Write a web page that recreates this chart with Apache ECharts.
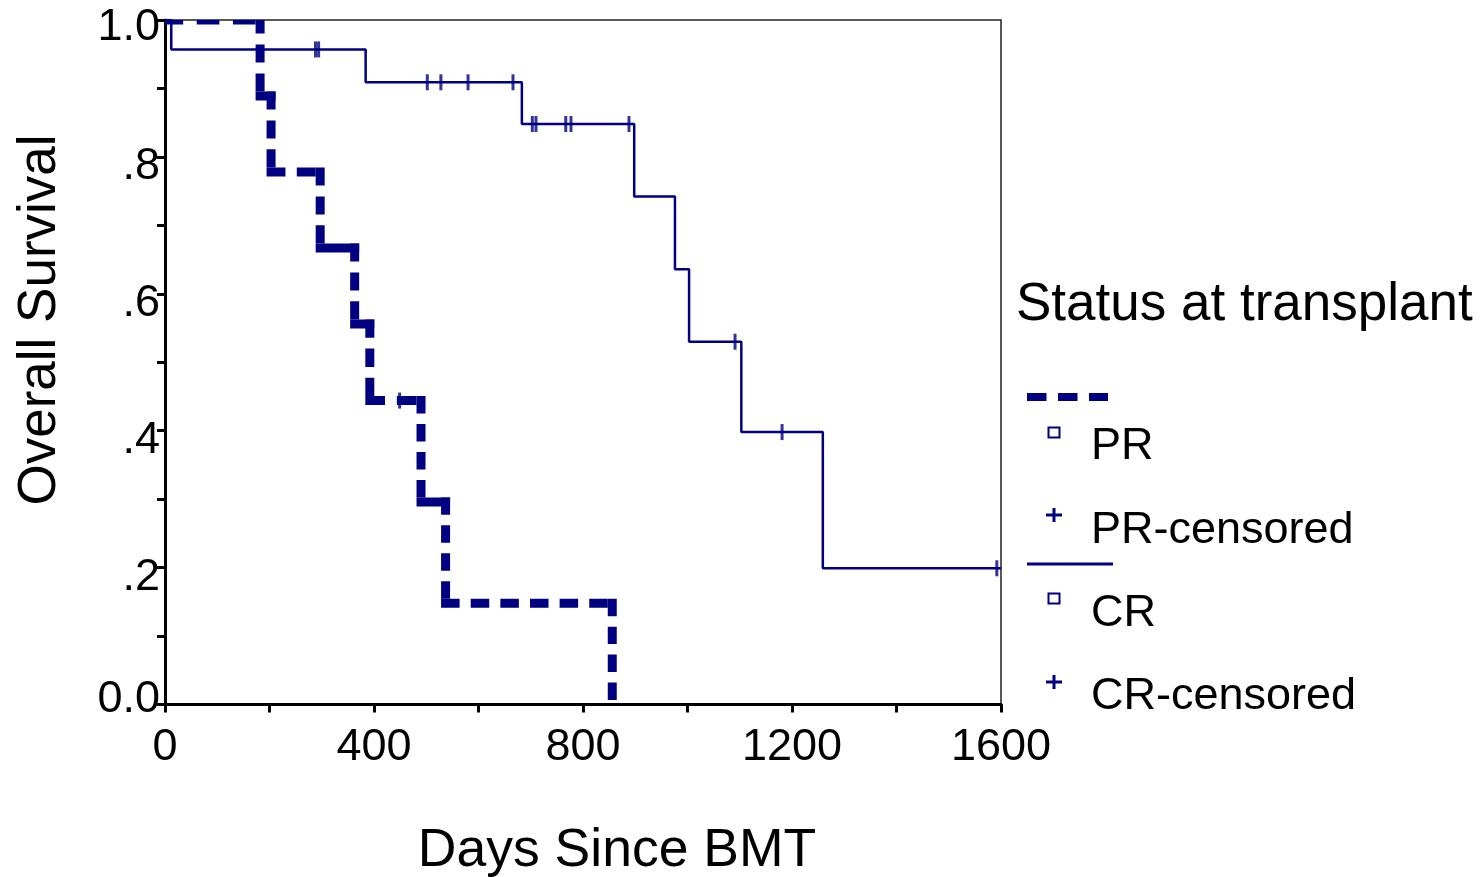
<!DOCTYPE html>
<html><head><meta charset="utf-8">
<script src="https://cdn.jsdelivr.net/npm/echarts@6.0.0/dist/echarts.min.js"></script>
<style>html,body{margin:0;padding:0;background:#fff}#c{width:1482px;height:877px}</style>
</head><body><div id="c"></div>
<script>
// ---- data ----
const prDays = [0, 182, 203, 297, 363, 392, 490, 537, 856];
const prSurv = [1.0, 0.889, 0.778, 0.667, 0.556, 0.444, 0.296, 0.148, 0.0];
const prCensorDays = [449];
const prCensorSurv = [0.444];
const crDays = [0, 12, 384, 683, 898, 976, 1003, 1103, 1259, 1600];
const crSurv = [1.0, 0.957, 0.909, 0.848, 0.742, 0.636, 0.530, 0.398, 0.199, 0.199];
const crCensorDays = [288, 294, 502, 528, 580, 666, 703, 710, 767, 777, 888, 1091, 1181, 1592];
const crCensorSurv = [0.957, 0.957, 0.909, 0.909, 0.909, 0.909, 0.848, 0.848, 0.848, 0.848, 0.848, 0.530, 0.398, 0.199];
const xTickLabels = [0, 400, 800, 1200, 1600];
const yTickLabels = {0: '0.0', 2: '.2', 4: '.4', 6: '.6', 8: '.8', 10: '1.0'};
const legendTitle = 'Status at transplant';
const legendNames = ['PR', 'PR-censored', 'CR', 'CR-censored'];
const xName = 'Days Since BMT';
const yName = 'Overall Survival';

const NAVY = '#000080';
const FONT = "'Liberation Sans', Arial, sans-serif";
const zip = (a, b) => a.map((v, i) => [v, b[i]]);
// step segments for the dashed curve: [x_i, y_i, x_{i+1}, y_{i+1}]
const prSegments = prDays.slice(0, -1).map((d, i) => [d, prSurv[i], prDays[i + 1], prSurv[i + 1]]);

const DASH = 20, GAP = 12, LW = 9;
function dashedSeg(a, b) {
  const L = Math.hypot(b[0] - a[0], b[1] - a[1]);
  const n = Math.max(1, Math.round((L + GAP) / (DASH + GAP)));
  const k = L / (n * DASH + (n - 1) * GAP);
  const d = DASH * k, g = GAP * k;
  return {
    type: 'line',
    shape: {x1: a[0], y1: a[1], x2: b[0], y2: b[1]},
    style: {stroke: NAVY, lineWidth: LW, lineCap: 'square',
      lineDash: n > 1 ? [Math.max(0.5, d - LW), g + LW] : null}
  };
}

const chart = echarts.init(document.getElementById('c'), null, {renderer: 'canvas'});
const labelRich = {
  m: {fontFamily: FONT, fontSize: 45, color: '#000', padding: [20, 0, 0, 0]},
  t: {fontFamily: FONT, fontSize: 45, color: '#000', padding: [15, 0, 0, 0]},
  b: {fontFamily: FONT, fontSize: 45, color: '#000', padding: [0, 0, 10, 0]}
};
const option = {
  backgroundColor: '#fff',
  animation: false,
  grid: {left: 165, top: 20, width: 836, height: 684.5, show: true, borderColor: '#222', borderWidth: 1.5, backgroundColor: 'transparent'},
  xAxis: {
    type: 'value', min: 0, max: 1600, interval: 200,
    axisLine: {show: true, onZero: false, lineStyle: {color: '#000', width: 3}},
    axisTick: {show: true, inside: false, length: 8, lineStyle: {color: '#000', width: 3}},
    axisLabel: {margin: 21, fontFamily: FONT, fontSize: 45, color: '#000',
      formatter: v => xTickLabels.includes(Math.round(v)) ? String(Math.round(v)) : ''},
    splitLine: {show: false}
  },
  yAxis: {
    type: 'value', min: 0, max: 1, interval: 0.1,
    axisLine: {show: true, onZero: false, lineStyle: {color: '#000', width: 3}},
    axisTick: {show: true, inside: false, length: 8, lineStyle: {color: '#000', width: 3}},
    axisLabel: {margin: 5, fontFamily: FONT, fontSize: 45, color: '#000', rich: labelRich,
      formatter: v => {
        const k = Math.round(v * 10);
        if (yTickLabels[k] === undefined) return '';
        const s = k === 0 ? 'b' : (k === 10 ? 't' : 'm');
        return '{' + s + '|' + yTickLabels[k] + '}';
      }},
    splitLine: {show: false}
  },
  series: [
    {type: 'line', name: 'CR', data: zip(crDays, crSurv), step: 'end', showSymbol: false,
      lineStyle: {color: NAVY, width: 2.5}, z: 3},
    {type: 'custom', name: 'PR', data: prSegments, clip: true, z: 4,
      renderItem: (params, api) => {
        const p0 = api.coord([api.value(0), api.value(1)]);
        const p1 = api.coord([api.value(2), api.value(1)]);
        const p2 = api.coord([api.value(2), api.value(3)]);
        return {type: 'group', children: [dashedSeg(p0, p1), dashedSeg(p1, p2)]};
      }},
    {type: 'scatter', name: 'CR-censored', data: zip(crCensorDays, crCensorSurv), symbol: 'rect', symbolSize: [3, 16],
      itemStyle: {color: NAVY}, z: 5},
    {type: 'scatter', name: 'PR-censored', data: zip(prCensorDays, prCensorSurv), symbol: 'rect', symbolSize: [3, 16],
      itemStyle: {color: NAVY}, z: 5}
  ],
  graphic: [
    {type: 'text', x: 40, y: 320, rotation: Math.PI / 2, style: {text: yName, font: `53px ${FONT}`, fill: '#000', textAlign: 'center', textVerticalAlign: 'middle'}},
    {type: 'text', x: 617, y: 851, style: {text: xName, font: `53.5px ${FONT}`, fill: '#000', textAlign: 'center', textVerticalAlign: 'middle'}},
    {type: 'text', x: 1016, y: 305, style: {text: legendTitle, font: `53px ${FONT}`, fill: '#000', textAlign: 'left', textVerticalAlign: 'middle'}},
    // legend: PR dashed line
    {type: 'line', shape: {x1: 1027, y1: 397, x2: 1108, y2: 397}, style: {stroke: NAVY, lineWidth: 8, lineDash: [19.5, 11.5], lineCap: 'butt'}},
    {type: 'rect', shape: {x: 1048.5, y: 427.5, width: 11, height: 10}, style: {stroke: NAVY, lineWidth: 2, fill: '#fff'}},
    {type: 'text', x: 1091, y: 447, style: {text: legendNames[0], font: `45px ${FONT}`, fill: '#000', textAlign: 'left', textVerticalAlign: 'middle'}},
    {type: 'line', shape: {x1: 1046, y1: 515, x2: 1062, y2: 515}, style: {stroke: NAVY, lineWidth: 3}},
    {type: 'line', shape: {x1: 1054, y1: 508, x2: 1054, y2: 522}, style: {stroke: NAVY, lineWidth: 3}},
    {type: 'text', x: 1091, y: 531, style: {text: legendNames[1], font: `45px ${FONT}`, fill: '#000', textAlign: 'left', textVerticalAlign: 'middle'}},
    // legend: CR solid line
    {type: 'line', shape: {x1: 1027, y1: 564, x2: 1113, y2: 564}, style: {stroke: NAVY, lineWidth: 3}},
    {type: 'rect', shape: {x: 1048.5, y: 593.5, width: 11, height: 10}, style: {stroke: NAVY, lineWidth: 2, fill: '#fff'}},
    {type: 'text', x: 1091, y: 614, style: {text: legendNames[2], font: `45px ${FONT}`, fill: '#000', textAlign: 'left', textVerticalAlign: 'middle'}},
    {type: 'line', shape: {x1: 1046, y1: 682, x2: 1062, y2: 682}, style: {stroke: NAVY, lineWidth: 3}},
    {type: 'line', shape: {x1: 1054, y1: 675, x2: 1054, y2: 689}, style: {stroke: NAVY, lineWidth: 3}},
    {type: 'text', x: 1091, y: 697, style: {text: legendNames[3], font: `45px ${FONT}`, fill: '#000', textAlign: 'left', textVerticalAlign: 'middle'}}
  ]
};
chart.setOption(option);
</script>
</body></html>
